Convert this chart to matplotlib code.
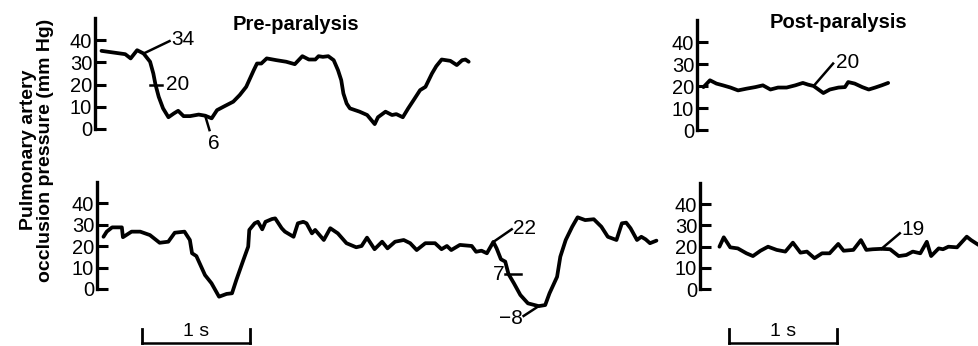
import matplotlib
matplotlib.use("Agg")
import matplotlib.pyplot as plt

plt.rcParams['font.family'] = ['Liberation Sans', 'DejaVu Sans']

# pre-paralysis, upper trace (s, mm Hg)
pre_top_t = [0.06, 0.28, 0.33, 0.39, 0.45, 0.51, 0.54, 0.56, 0.59, 0.63, 0.68, 0.73,
             0.77, 0.82, 0.88, 0.96, 1.02, 1.08, 1.13, 1.20, 1.28, 1.34, 1.40, 1.47,
             1.50, 1.54, 1.59, 1.68, 1.77, 1.85, 1.92, 1.98, 2.04, 2.07, 2.11, 2.16,
             2.21, 2.25, 2.28, 2.30, 2.33, 2.36, 2.45, 2.52, 2.59, 2.62, 2.69, 2.75,
             2.79, 2.85, 2.90, 2.95, 3.01, 3.06, 3.12, 3.16, 3.21, 3.29, 3.35, 3.40,
             3.43, 3.46]
pre_top_p = [35.2, 33.7, 31.8, 35.5, 34.0, 30.3, 25.0, 20.0, 14.5, 9.3, 5.3, 7.0,
             8.2, 5.8, 5.8, 6.5, 6.0, 4.8, 8.5, 10.3, 12.3, 15.3, 19.0, 26.5,
             29.5, 29.5, 31.8, 31.0, 30.3, 29.2, 32.8, 31.3, 31.3, 32.8, 32.5, 32.8,
             31.0, 26.5, 22.0, 16.0, 11.5, 9.3, 7.8, 6.3, 2.2, 5.3, 7.8, 6.3,
             6.7, 5.3, 9.3, 13.0, 17.5, 19.0, 25.0, 28.3, 31.3, 30.7, 28.8, 31.0,
             31.3, 30.3]

# pre-paralysis, lower trace
pre_bot_t = [0.06, 0.09, 0.14, 0.23, 0.24, 0.32, 0.40, 0.49, 0.58, 0.66, 0.72, 0.81,
             0.86, 0.88, 0.92, 1.00, 1.06, 1.13, 1.20, 1.25, 1.29, 1.35, 1.40, 1.41,
             1.46, 1.49, 1.53, 1.56, 1.62, 1.65, 1.71, 1.74, 1.82, 1.86, 1.91, 1.94,
             1.99, 2.02, 2.10, 2.16, 2.23, 2.31, 2.40, 2.45, 2.50, 2.57, 2.64, 2.69,
             2.76, 2.84, 2.90, 2.96, 3.04, 3.13, 3.19, 3.24, 3.28, 3.36, 3.47, 3.51,
             3.56, 3.61, 3.67, 3.70, 3.74, 3.78, 3.81, 3.86, 3.92, 3.99, 4.09, 4.15,
             4.19, 4.26, 4.29, 4.34, 4.40, 4.45, 4.52, 4.60, 4.67, 4.73, 4.81, 4.86,
             4.90, 4.94, 5.00, 5.04, 5.08, 5.12, 5.18]
pre_bot_p = [24.4, 26.8, 28.8, 28.8, 24.2, 26.8, 26.8, 25.2, 21.6, 22.1, 26.3, 26.8,
             22.9, 16.7, 15.4, 6.5, 2.7, -3.6, -2.3, -2.0, 4.2, 12.8, 19.8, 27.6,
             30.7, 31.4, 27.9, 31.4, 32.7, 33.0, 28.4, 26.8, 24.4, 30.7, 31.4, 30.7,
             26.0, 27.6, 22.9, 28.4, 26.0, 21.4, 19.5, 20.1, 24.0, 18.6, 22.1, 19.0,
             22.1, 22.9, 21.4, 18.2, 21.4, 21.4, 18.6, 20.1, 18.2, 20.6, 20.1, 17.4,
             17.9, 16.7, 22.0, 19.0, 13.9, 12.8, 7.0, 2.7, -2.8, -6.7, -8.0, -7.5,
             -2.0, 5.7, 15.1, 22.9, 29.1, 33.5, 32.2, 32.6, 29.1, 24.4, 22.9, 30.7,
             31.0, 28.4, 22.9, 24.4, 23.2, 21.4, 22.6]

# post-paralysis, upper trace
post_top_t = [0.06, 0.12, 0.18, 0.24, 0.31, 0.38, 0.46, 0.54, 0.61, 0.68, 0.75, 0.83,
              0.91, 0.98, 1.03, 1.08, 1.17, 1.23, 1.31, 1.37, 1.40, 1.46, 1.53, 1.59,
              1.65, 1.71, 1.77]
post_top_p = [19.5, 22.6, 21.1, 20.3, 19.3, 18.0, 18.8, 19.5, 20.3, 18.4, 19.3, 19.3,
              20.3, 21.4, 20.6, 20.0, 16.8, 18.4, 19.3, 19.5, 21.8, 21.1, 19.5, 18.4,
              19.3, 20.3, 21.4]

# post-paralysis, lower trace
post_bot_t = [0.18, 0.22, 0.28, 0.35, 0.43, 0.49, 0.56, 0.63, 0.71, 0.79, 0.86, 0.93,
              0.99, 1.06, 1.13, 1.20, 1.28, 1.33, 1.42, 1.49, 1.54, 1.60, 1.68, 1.76,
              1.84, 1.91, 1.97, 2.04, 2.10, 2.14, 2.21, 2.25, 2.30, 2.38, 2.47, 2.51,
              2.58]
post_bot_p = [20.0, 24.4, 19.7, 19.2, 16.9, 15.6, 18.1, 20.0, 18.5, 17.7, 21.9, 17.2,
              17.7, 14.6, 16.9, 16.9, 21.3, 18.1, 18.5, 23.1, 18.5, 18.8, 19.0, 18.8,
              15.6, 16.1, 17.7, 16.9, 22.3, 15.6, 19.2, 18.8, 20.0, 19.7, 24.7, 23.1,
              20.8]

yticks = [0, 10, 20, 30, 40]

FIG_W, FIG_H = 979, 346
PX_PER_S = 108
YLIM = (-30, 60)

fig = plt.figure(figsize=(FIG_W / 100, FIG_H / 100), dpi=100)


def make_panel(spine_px, zero_py, px_per_unit, right_px):
    width_px = right_px - spine_px
    top_py = zero_py - YLIM[1] * px_per_unit
    bottom_py = zero_py - YLIM[0] * px_per_unit
    ax = fig.add_axes([spine_px / FIG_W, 1 - bottom_py / FIG_H,
                       width_px / FIG_W, (bottom_py - top_py) / FIG_H])
    ax.set_xlim(0, width_px / PX_PER_S)
    ax.set_ylim(*YLIM)
    ax.patch.set_visible(False)
    for side in ['top', 'right', 'bottom']:
        ax.spines[side].set_visible(False)
    ax.spines['left'].set_bounds(0, 50)
    ax.spines['left'].set_linewidth(2.4)
    ax.set_xticks([])
    ax.set_yticks(yticks)
    ax.tick_params(axis='y', direction='in', length=8, width=2.2, pad=2,
                   labelsize=14.5)
    return ax


def trace(ax, t, p):
    ax.plot(t, p, color='black', lw=2.7, solid_joinstyle='round',
            solid_capstyle='round', clip_on=False)


def pointer(ax, x0, y0, x1, y1):
    ax.plot([x0, x1], [y0, y1], color='black', lw=1.8, clip_on=False)


def scale_bar(ax, x0, y0, cap):
    ax.plot([x0, x0 + 1], [y0, y0], color='black', lw=1.8, clip_on=False)
    for x in (x0, x0 + 1):
        ax.plot([x, x], [y0, y0 + cap], color='black', lw=2.0, clip_on=False)
    ax.text(x0 + 0.5, y0 + 1.5, '1 s', ha='center', va='bottom', fontsize=14)


ax_pt = make_panel(95, 129, 2.22, 480)
ax_qt = make_panel(697, 130, 2.2, 979)
ax_pb = make_panel(97, 289, 2.14, 680)
ax_qb = make_panel(700, 289.3, 2.13, 979)

trace(ax_pt, pre_top_t, pre_top_p)
trace(ax_qt, post_top_t, post_top_p)
trace(ax_pb, pre_bot_t, pre_bot_p)
trace(ax_qb, post_bot_t, post_bot_p)

ann = dict(fontsize=15, va='center')

# pre-paralysis, upper
pointer(ax_pt, pre_top_t[4], pre_top_p[4], 0.69, 39.6)
ax_pt.text(0.71, 40.5, '34', ha='left', **ann)
ax_pt.plot([0.51, 0.62], [pre_top_p[7], pre_top_p[7]], color='black', lw=1.8)
ax_pt.text(0.66, pre_top_p[7], '20', ha='left', **ann)
pointer(ax_pt, pre_top_t[16], pre_top_p[16], 1.06, -0.5)
ax_pt.text(1.10, -6.5, '6', ha='center', **ann)

# post-paralysis, upper
pointer(ax_qt, post_top_t[15], post_top_p[15], 1.26, 30.2)
ax_qt.text(1.29, 30.5, '20', ha='left', **ann)

# pre-paralysis, lower
pointer(ax_pb, pre_bot_t[62], pre_bot_p[62], 3.84, 27.9)
ax_pb.text(3.85, 28.5, '22', ha='left', **ann)
ax_pb.plot([3.78, 3.93], [pre_bot_p[66], pre_bot_p[66]], color='black', lw=1.8)
ax_pb.text(3.77, pre_bot_p[66], '7', ha='right', **ann)
pointer(ax_pb, pre_bot_t[70], pre_bot_p[70], 3.95, -12.6)
ax_pb.text(3.94, -13.8, '\u22128', ha='right', **ann)

# post-paralysis, lower
pointer(ax_qb, post_bot_t[22], post_bot_p[22], 1.85, 26.3)
ax_qb.text(1.86, 28.0, '19', ha='left', **ann)

scale_bar(ax_pb, 0.42, -25.2, 6.5)
scale_bar(ax_qb, 0.27, -25.2, 6.5)

fig.text(296 / FIG_W, 1 - 25 / FIG_H, 'Pre-paralysis', ha='center', va='center',
         fontsize=14.5, fontweight='bold')
fig.text(838 / FIG_W, 1 - 23 / FIG_H, 'Post-paralysis', ha='center', va='center',
         fontsize=14.5, fontweight='bold')
fig.text(37 / FIG_W, 1 - 150 / FIG_H, 'Pulmonary artery\nocclusion pressure (mm Hg)',
         rotation=90, ha='center', va='center', multialignment='center',
         fontsize=14, fontweight='bold', linespacing=0.95)

fig.savefig('out.png', dpi=100)
